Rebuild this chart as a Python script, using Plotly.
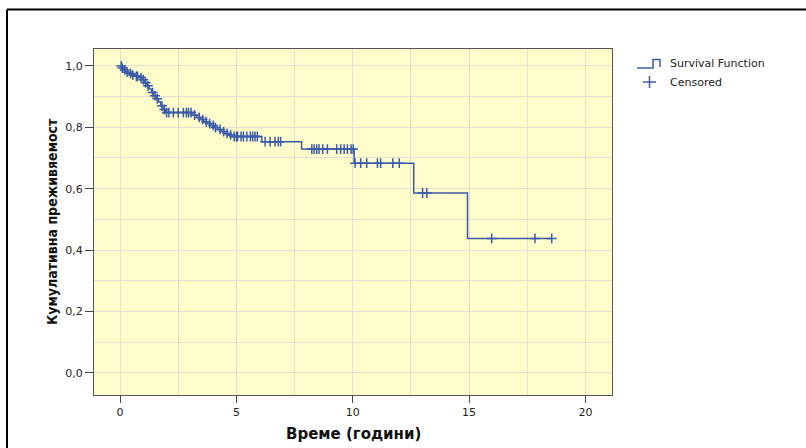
import numpy as np
import plotly.graph_objects as go

# ---- data ----
step_times = [0, 0.08, 0.15, 0.25, 0.35, 0.5, 0.65, 0.8, 0.95, 1.05, 1.15, 1.25,
              1.35, 1.45, 1.55, 1.65, 1.75, 1.85, 1.95, 3.1, 3.3, 3.45, 3.6, 3.75,
              3.9, 4.05, 4.2, 4.35, 4.5, 4.65, 4.8, 6.09, 7.8, 10.06, 12.62, 14.93]
survival = [1.0, 0.993, 0.987, 0.980, 0.975, 0.970, 0.966, 0.962, 0.955, 0.945,
            0.935, 0.925, 0.913, 0.903, 0.893, 0.882, 0.870, 0.858, 0.848, 0.840,
            0.832, 0.825, 0.818, 0.812, 0.806, 0.799, 0.793, 0.786, 0.780, 0.775,
            0.770, 0.753, 0.729, 0.683, 0.586, 0.438]
end_time = 18.55
censored_times = [0.05, 0.1, 0.2, 0.3, 0.45, 0.55, 0.7, 0.75, 0.9, 1.0, 1.1, 1.2,
                  1.4, 1.5, 1.6, 1.8, 1.9,
                  2.0, 2.1, 2.29, 2.5, 2.72, 2.85, 2.94, 3.05,
                  3.2, 3.4, 3.55, 3.7, 3.85, 4.0, 4.1, 4.3, 4.45, 4.6, 4.75, 4.9, 5.0,
                  5.05, 5.2, 5.3, 5.45, 5.6, 5.7, 5.8, 5.9,
                  6.23, 6.45, 6.66, 6.8, 6.9,
                  8.24, 8.34, 8.45, 8.55, 8.71, 8.91, 9.31, 9.48, 9.63, 9.77, 9.93, 10.02,
                  10.1, 10.34, 10.6, 11.06, 11.2, 11.72, 12.0,
                  13.0, 13.18,
                  15.97, 17.83, 18.55]
x_ticks = [0, 5, 10, 15, 20]
y_ticks = [0.0, 0.2, 0.4, 0.6, 0.8, 1.0]
y_tick_labels = ["0,0", "0,2", "0,4", "0,6", "0,8", "1,0"]
x_title = "Време (години)"
y_title = "Кумулативна преживяемост"
legend_labels = ["Survival Function", "Censored"]

# ---- derived ----
line_x = list(step_times) + [end_time]
line_y = list(survival) + [survival[-1]]
st = np.array(step_times)
sv = np.array(survival)
cens_y = [float(sv[np.searchsorted(st, t, side="right") - 1]) for t in censored_times]

BLUE = "#3B5BA9"
W, H = 806, 448
L, R, T, B = 94, 612, 49, 395
pw, ph = R - L, B - T


def px(xp):
    return (xp - L) / pw


def py(yp):
    return (B - yp) / ph


fig = go.Figure()
fig.add_trace(go.Scatter(x=line_x, y=line_y, mode="lines", line_shape="hv",
                         line=dict(color=BLUE, width=1.5), showlegend=False,
                         name=legend_labels[0]))
fig.add_trace(go.Scatter(x=censored_times, y=cens_y, mode="markers",
                         marker=dict(symbol="cross-thin", size=7,
                                     line=dict(color=BLUE, width=1.5)),
                         showlegend=False, name=legend_labels[1]))

FONT = "DejaVu Sans, Verdana, sans-serif"
fig.update_layout(
    width=W, height=H,
    margin=dict(l=L, r=W - R, t=T, b=H - B),
    paper_bgcolor="white",
    plot_bgcolor="#FEFDCB",
    font=dict(family=FONT, size=11, color="#222"),
    xaxis=dict(range=[-1.12, 21.14], tickvals=x_ticks, ticks="outside", ticklen=7,
               tickcolor="#444", showline=True, linecolor="#555", mirror=True,
               showgrid=True, gridcolor="#E2E0D2", zeroline=False,
               minor=dict(dtick=2.5, tick0=0, showgrid=True, gridcolor="#E2E0D2"),
               tickfont=dict(size=11)),
    yaxis=dict(range=[-0.072, 1.055], tickvals=y_ticks, ticktext=y_tick_labels,
               ticks="outside", ticklen=8, tickcolor="#444", showline=True,
               linecolor="#555", mirror=True, showgrid=True, gridcolor="#E2E0D2",
               zeroline=False,
               minor=dict(dtick=0.1, tick0=0, showgrid=True, gridcolor="#E2E0D2"),
               tickfont=dict(size=11)),
)

annotations = [
    dict(text="<b>" + x_title + "</b>", x=px(353), y=py(434), xref="paper", yref="paper",
         showarrow=False, font=dict(family=FONT, size=15, color="#111"),
         xanchor="center", yanchor="middle"),
    dict(text="<b>" + y_title + "</b>", x=px(52), y=py(222), xref="paper", yref="paper",
         showarrow=False, textangle=-90,
         font=dict(family="Liberation Sans Narrow, DejaVu Sans Condensed, Arial Narrow, sans-serif",
                   size=14, color="#111"),
         xanchor="center", yanchor="middle"),
    dict(text=legend_labels[0], x=px(668), y=py(63), xref="paper", yref="paper",
         showarrow=False, font=dict(family=FONT, size=11, color="#222"),
         xanchor="left", yanchor="middle"),
    dict(text=legend_labels[1], x=px(668), y=py(82), xref="paper", yref="paper",
         showarrow=False, font=dict(family=FONT, size=11, color="#222"),
         xanchor="left", yanchor="middle"),
]
fig.update_layout(annotations=annotations)

shapes = [
    # outer frame (top and left edges)
    dict(type="line", xref="paper", yref="paper", x0=px(7), x1=px(810), y0=py(9.5), y1=py(9.5),
         line=dict(color="black", width=2)),
    dict(type="line", xref="paper", yref="paper", x0=px(7), x1=px(7), y0=py(9.5), y1=py(452),
         line=dict(color="black", width=2)),
    # legend step icon
    dict(type="path", xref="paper", yref="paper",
         path="M {} {} L {} {} L {} {} L {} {} L {} {}".format(
             px(637), py(68), px(653), py(68), px(653), py(59.5),
             px(660), py(59.5), px(660), py(67)),
         line=dict(color=BLUE, width=1.5)),
    # legend censored icon
    dict(type="line", xref="paper", yref="paper", x0=px(643), x1=px(656), y0=py(82), y1=py(82),
         line=dict(color=BLUE, width=1.5)),
    dict(type="line", xref="paper", yref="paper", x0=px(649.5), x1=px(649.5), y0=py(76), y1=py(88),
         line=dict(color=BLUE, width=1.5)),
]
fig.update_layout(shapes=shapes)

fig.write_html("out.html", config={"displayModeBar": False},
               post_script="document.body.style.margin='0';document.body.style.overflow='hidden';")
